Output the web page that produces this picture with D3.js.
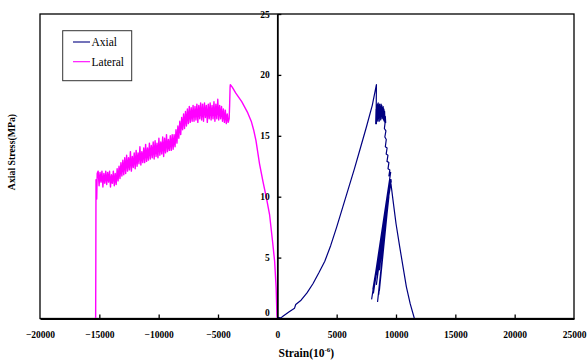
<!DOCTYPE html>
<html><head><meta charset="utf-8">
<script src="https://cdn.jsdelivr.net/npm/d3@7"></script>
<style>body{margin:0;background:#fff}svg{display:block}</style>
</head><body><svg id="c" width="588" height="362"></svg>
<script>
const xTicks = [-20000,-15000,-10000,-5000,0,5000,10000,15000,20000,25000];
const yTicks = [0,5,10,15,20,25];
const seriesNames = ["Axial","Lateral"];
const axialStrain = [0,300,500,1000,1450,1550,2000,2500,3000,3500,4000,4500,5000,5500,6000,6500,7000,7500,8000,8350,
 8330,8290,8320,8350,8380,8410,8440,8470,8500,8530,8560,8590,8620,8650,8680,8710,8740,8770,8800,8830,8860,8890,8920,8950,8980,9010,9040,9070,9100,9130,
 9100,9020,9150,9060,9180,9100,9250,9170,9320,9240,9400,9330,9480,9400,9550,
 7950,9450,8350,9400,8500,9500,8100,9550,8700,9400,8450,9350,8300,9550,8250,9500,8800,9450,8550,9300,8600,9350,8150,9600,8900,9580,8400,9450,8050,9500,8650,9400,8600,9530,
 9750,10000,10310,10600,10875,11200,11550];
const axialStress = [0.1,0.05,0.2,0.55,0.85,1.15,1.5,2.1,2.85,3.75,4.7,6.0,7.5,9.1,10.7,12.3,14.0,15.7,17.5,19.2,
 17.0,16.0,17.2,16.0,17.5,16.3,17.6,16.2,17.7,16.4,17.5,16.2,17.6,16.5,17.4,16.3,17.6,16.6,17.5,16.4,17.3,16.5,17.4,16.3,17.2,16.2,17.0,16.0,16.6,16.1,
 16.2,15.6,15.4,14.9,14.7,14.1,14.0,13.5,13.4,12.9,12.8,12.3,12.2,11.7,12.0,
 1.6,11.0,2.8,10.4,4.5,11.2,2.1,11.4,5.5,10.0,1.4,9.8,3.8,11.3,3.2,11.0,6.5,10.8,2.0,9.2,4.0,10.2,2.6,11.3,7.2,11.4,3.6,10.6,2.4,10.9,4.8,10.1,2.3,11.4,
 9.7,7.8,5.9,4.2,2.6,1.2,0];
const lateralStrain = [-15310,-15295,-15280,-15260,-15220,-15180,
 -15100,-15020,-14940,-14860,-14780,-14700,-14620,-14540,-14460,-14380,
 -14300,-14220,-14140,-14060,-13980,-13900,-13820,-13740,-13660,-13580,
 -13500,-13420,-13340,-13260,-13180,-13100,-13020,-12940,-12860,-12780,
 -12700,-12620,-12540,-12460,-12380,-12300,-12220,-12140,-12060,-11980,
 -11900,-11820,-11740,-11660,-11580,-11500,-11420,-11340,-11260,-11180,
 -11100,-11020,-10940,-10860,-10780,-10700,-10620,-10540,-10460,-10380,
 -10300,-10220,-10140,-10060,-9980,-9900,-9820,-9740,-9660,-9580,
 -9500,-9420,-9340,-9260,-9180,-9100,-9020,-8940,-8860,-8780,
 -8700,-8620,-8540,-8460,-8380,-8300,-8220,-8140,-8060,-7980,
 -7900,-7820,-7740,-7660,-7580,-7500,-7420,-7340,-7260,-7180,
 -7100,-7020,-6940,-6860,-6780,-6700,-6620,-6540,-6460,-6380,
 -6300,-6220,-6140,-6060,-5980,-5900,-5820,-5740,-5660,-5580,
 -5500,-5420,-5340,-5260,-5180,-5100,-5020,-4940,-4860,-4780,
 -4700,-4620,-4540,-4460,-4380,-4300,-4220,-4140,
 -4060,-4020,-3980,-3960,-3800,-3500,-3000,-2500,-2200,-2000,-1800,-1500,-1200,-900,-650,-400,-228,-100,-34,0];
const lateralStress = [0,5.0,11.4,11.3,9.8,11.9,
 12.1,10.9,12.0,11.2,12.1,10.8,11.9,11.1,12.1,11.0,
 12.0,11.2,12.1,10.8,11.8,11.1,12.1,10.9,11.9,11.0,
 12.3,11.3,12.5,11.5,12.8,11.7,13.0,11.8,13.2,11.9,
 13.4,12.1,13.2,12.2,13.7,12.1,13.3,12.4,13.6,12.3,
 13.8,12.5,13.6,12.7,14.1,12.6,13.7,12.8,14.0,12.8,
 14.3,12.9,14.0,13.0,14.4,13.1,14.2,13.2,14.5,13.1,
 14.6,13.3,14.4,13.2,14.8,13.4,14.5,13.5,14.9,13.3,
 14.8,13.6,15.1,13.7,14.7,13.8,15.0,13.8,15.1,13.9,
 15.1,14.1,15.5,14.4,15.8,14.8,16.2,15.1,16.5,15.5,
 16.8,15.6,17.0,15.8,17.2,16.0,17.4,16.1,17.3,16.2,
 17.5,16.2,17.4,16.3,17.6,16.1,17.5,16.4,17.7,16.3,
 17.6,16.2,17.7,16.5,17.5,16.1,17.6,16.4,17.7,16.3,
 17.5,16.4,17.8,16.2,17.6,16.4,18.0,16.3,17.5,16.4,
 17.4,16.2,17.2,16.1,17.1,16.0,16.8,16.1,
 16.4,17.5,19.0,19.2,19.0,18.5,17.8,16.9,16.2,15.5,14.6,12.7,11.2,9.8,8.5,6.3,4.7,2.5,0.3,0];
const colors = {Axial:"#000080", Lateral:"#FF00FF"};

const svg = d3.select("#c");
const x = d3.scaleLinear().domain([-20000,25000]).range([40,574]);
const y = d3.scaleLinear().domain([0,25]).range([318.5,14]);
const serif = "'Liberation Serif','Times New Roman',serif";

svg.append("rect").attr("x",40).attr("y",14).attr("width",534).attr("height",304.5)
  .attr("fill","none").attr("stroke","#000").attr("stroke-width",1.3);

const line = d3.line().x(d=>x(d[0])).y(d=>y(d[1]));
const lat = lateralStrain.map((s,i)=>[s,lateralStress[i]]);
const ax = axialStrain.map((s,i)=>[s,axialStress[i]]);
svg.append("path").datum(lat).attr("d",line).attr("fill","none").attr("stroke",colors.Lateral).attr("stroke-width",1.4).attr("stroke-linejoin","round");
svg.append("path").datum(ax).attr("d",line).attr("fill","none").attr("stroke",colors.Axial).attr("stroke-width",1.2).attr("stroke-linejoin","round");

const gx = svg.append("g").attr("transform","translate(0,318.5)")
  .call(d3.axisBottom(x).tickValues(xTicks).tickSize(-4).tickSizeOuter(0).tickPadding(12.5).tickFormat(d3.format("d")));
gx.attr("font-family",serif);
gx.select(".domain").attr("stroke-width",2);
gx.selectAll(".tick line").attr("stroke-width",1.3).filter(d=>d===-20000||d===0||d===25000).remove();
gx.selectAll("text").attr("font-family",serif).attr("font-weight","bold").attr("font-size","9.5px").attr("fill","#000");

const gy = svg.append("g").attr("transform",`translate(${x(0)},0)`)
  .call(d3.axisLeft(y).tickValues(yTicks).tickSize(-4).tickSizeOuter(0).tickPadding(7.5).tickFormat(d3.format("d")));
gy.attr("font-family",serif);
gy.select(".domain").attr("stroke-width",1.8);
gy.selectAll(".tick line").attr("stroke-width",1.3);
gy.selectAll("text").attr("font-family",serif).attr("font-weight","bold").attr("font-size","9.5px").attr("fill","#000");
gy.selectAll(".tick").filter(d=>d===0).select("text").attr("dy","-0.3em");

const xt = svg.append("text").attr("x",278.5).attr("y",357).attr("font-family",serif).attr("font-weight","bold").attr("font-size","11.5px");
xt.append("tspan").text("Strain(10");
xt.append("tspan").attr("font-size","7px").attr("dy","-5").text("-6");
xt.append("tspan").attr("dy","5").text(")");
svg.append("text").attr("transform","translate(14.5,152) rotate(-90)").attr("text-anchor","middle")
  .attr("font-family",serif).attr("font-weight","bold").attr("font-size","9.8px").text("Axial Stress(MPa)");

svg.append("rect").attr("x",62.7).attr("y",30.7).attr("width",69).attr("height",50).attr("fill","#fff").attr("stroke","#333").attr("stroke-width",1);
seriesNames.forEach((n,i)=>{
  const yy = 42 + i*19.7;
  svg.append("line").attr("x1",73).attr("x2",90).attr("y1",yy).attr("y2",yy).attr("stroke",colors[n]).attr("stroke-width",1.1);
  svg.append("text").attr("x",91.5).attr("y",yy+4).attr("font-family",serif).attr("font-size","11.5px").text(n);
});
</script></body></html>
